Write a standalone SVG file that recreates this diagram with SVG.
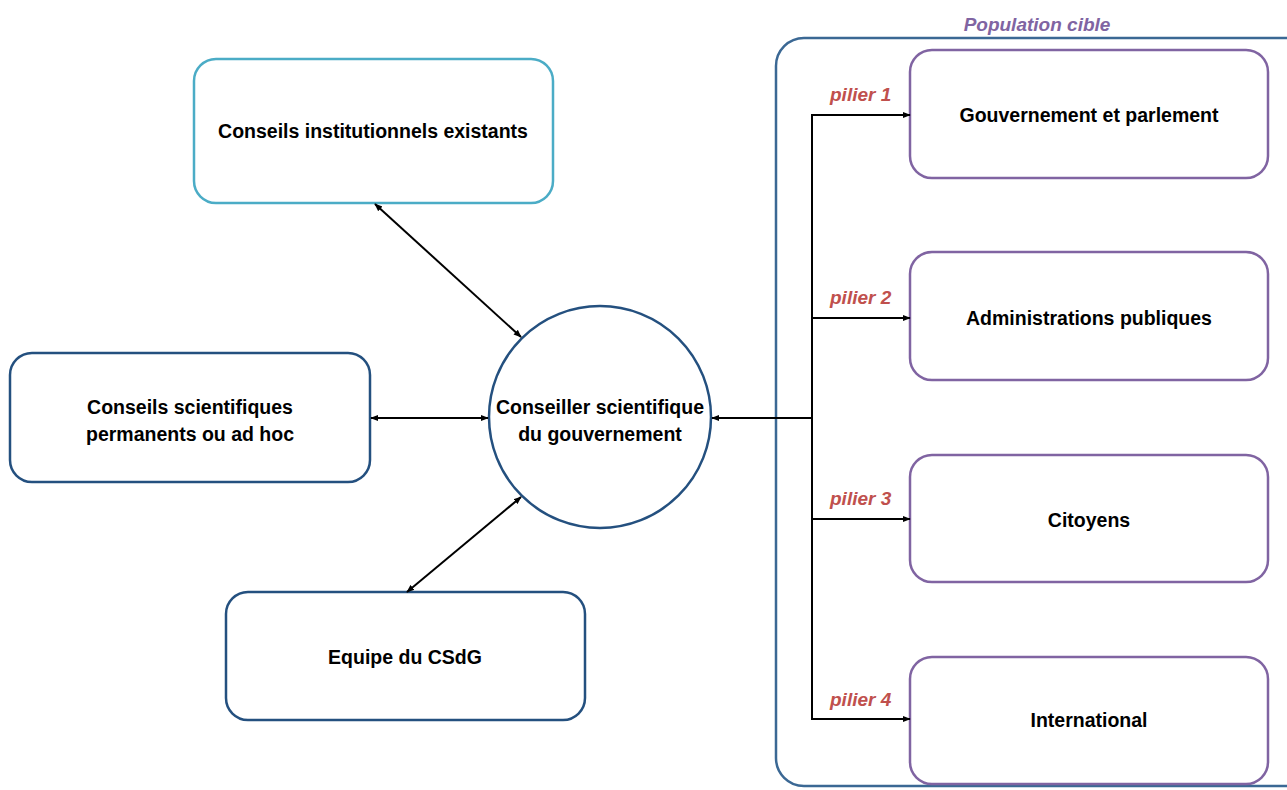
<svg xmlns="http://www.w3.org/2000/svg" width="1287" height="790" viewBox="0 0 1287 790">
<defs>
<marker id="ah" viewBox="0 0 10 10" refX="9" refY="5" markerWidth="8" markerHeight="8" orient="auto-start-reverse" markerUnits="userSpaceOnUse"><path d="M0,1 L10,5 L0,9 z" fill="#000"/></marker>
<style>
.t{font-family:"Liberation Sans",Arial,sans-serif;font-weight:bold;font-size:19.5px;fill:#000;text-anchor:middle}
.p{font-family:"Liberation Sans",Arial,sans-serif;font-weight:bold;font-style:italic;font-size:19px;fill:#C0504D}
.blue{fill:#fff;stroke:#24507F;stroke-width:2.5}
.purp{fill:#fff;stroke:#8064A2;stroke-width:2.5}
.cyan{fill:#fff;stroke:#4BACC6;stroke-width:2.5}
.c{fill:none;stroke:#000;stroke-width:2}
</style>
</defs>
<rect width="1287" height="790" fill="#fff"/>
<g id="population">
<rect x="776" y="38" width="540" height="748" rx="28" fill="#fff" stroke="#3B6894" stroke-width="2.5"/>
<text x="1037" y="31" style="font-family:'Liberation Sans',Arial,sans-serif;font-weight:bold;font-style:italic;font-size:19px;fill:#8064A2;text-anchor:middle">Population  cible</text>
</g>
<g id="n-institutionnels"><rect class="cyan" x="194" y="59" width="359" height="144" rx="22"/><text class="t" x="373" y="138">Conseils institutionnels existants</text></g>
<g id="n-permanents"><rect class="blue" x="10" y="353" width="360" height="129" rx="22"/><text class="t" x="190" y="414">Conseils scientifiques</text><text class="t" x="190" y="441">permanents ou ad hoc</text></g>
<g id="n-equipe"><rect class="blue" x="226" y="592" width="359" height="128" rx="22"/><text class="t" x="405" y="664">Equipe du CSdG</text></g>
<g id="n-conseiller"><circle class="blue" cx="600" cy="417" r="111"/><text class="t" x="600" y="414">Conseiller scientifique</text><text class="t" x="600" y="441">du gouvernement</text></g>
<g id="n-gouv"><rect class="purp" x="910" y="50" width="358" height="128" rx="22"/><text class="t" x="1089" y="122">Gouvernement et parlement</text></g>
<g id="n-admin"><rect class="purp" x="910" y="252" width="358" height="128" rx="22"/><text class="t" x="1089" y="325">Administrations publiques</text></g>
<g id="n-citoyens"><rect class="purp" x="910" y="455" width="358" height="127" rx="22"/><text class="t" x="1089" y="527">Citoyens</text></g>
<g id="n-international"><rect class="purp" x="910" y="657" width="358" height="127" rx="22"/><text class="t" x="1089" y="727">International</text></g>
<g id="connectors">
<line class="c" x1="375" y1="204" x2="521" y2="337" marker-start="url(#ah)" marker-end="url(#ah)"/>
<line class="c" x1="371" y1="418" x2="488" y2="418" marker-start="url(#ah)" marker-end="url(#ah)"/>
<line class="c" x1="407" y1="592" x2="521" y2="497" marker-start="url(#ah)" marker-end="url(#ah)"/>
<line class="c" x1="812" y1="418" x2="712" y2="418" marker-end="url(#ah)"/>
<line class="c" x1="812" y1="114" x2="812" y2="720"/>
<line class="c" x1="811" y1="115" x2="910" y2="115" marker-end="url(#ah)"/>
<line class="c" x1="811" y1="318" x2="910" y2="318" marker-end="url(#ah)"/>
<line class="c" x1="811" y1="519" x2="910" y2="519" marker-end="url(#ah)"/>
<line class="c" x1="811" y1="719" x2="910" y2="719" marker-end="url(#ah)"/>
<text class="p" x="830" y="101">pilier 1</text>
<text class="p" x="830" y="304">pilier 2</text>
<text class="p" x="830" y="505">pilier 3</text>
<text class="p" x="830" y="706">pilier 4</text>
</g>
</svg>
